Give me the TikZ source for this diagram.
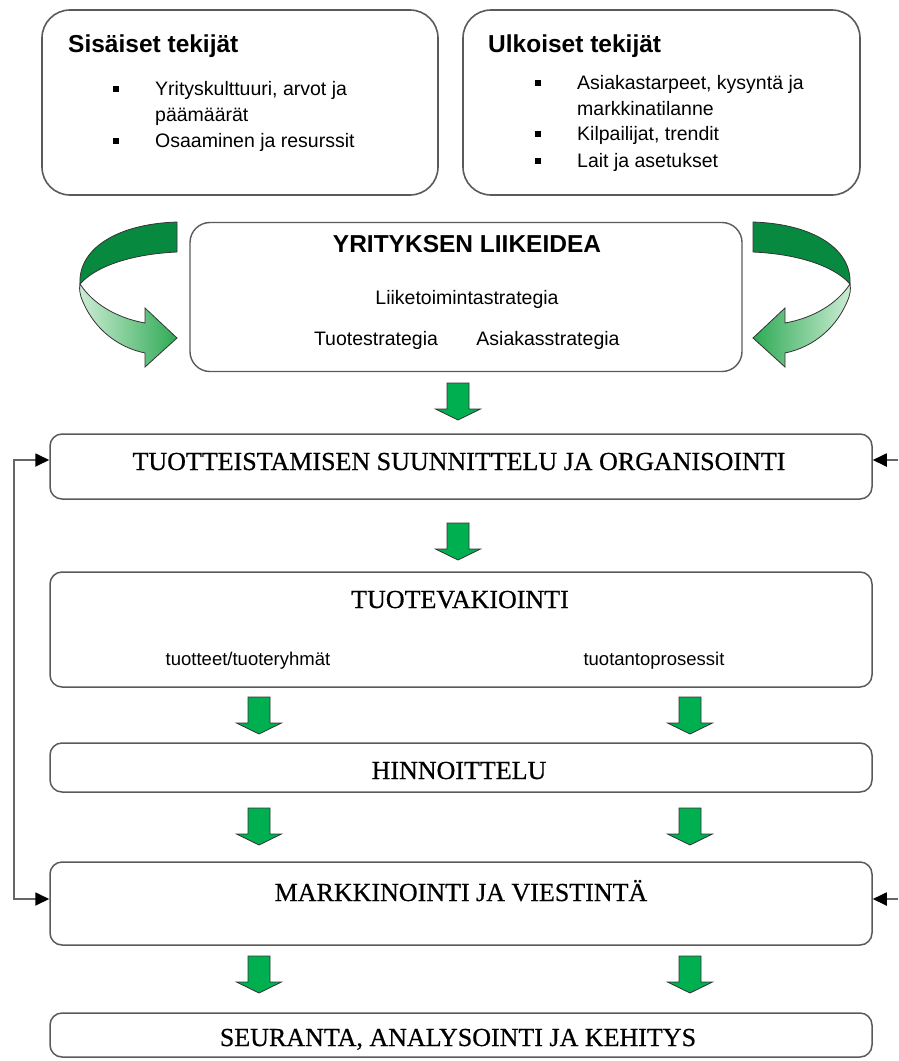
\documentclass[tikz,border=0pt]{standalone}
\usepackage{fontspec}
\setmainfont{Liberation Serif}
\newfontfamily\arial{Liberation Sans}
\newfontfamily\stagefont[FakeBold=0.6]{Liberation Serif}
\usepackage{xcolor}
\usetikzlibrary{arrows.meta,calc}
\definecolor{Leaf}{HTML}{00B050}
\definecolor{Forest}{HTML}{078A3F}
\definecolor{Mint}{HTML}{CDEDD4}
\definecolor{Grass}{HTML}{2EAA55}
\definecolor{Frame}{HTML}{5A5A5A}

\tikzset{
  pics/gdown/.style={code={
    \draw[fill=Leaf, draw=black!80, line width=0.8pt]
      (-11,0) -- (11,0) -- (11,26) -- (22.5,26) -- (0,37) -- (-22.5,26) -- (-11,26) -- cycle;
  }},
  pics/swirl/.style n args={2}{code={
    \draw[fill=Forest, draw=black!80, line width=0.8pt]
      (177,222) .. controls (115,224) and (78,250) .. (80,284)
      .. controls (96,266) and (132,254) .. (177,252) -- cycle;
    \draw[left color=#1, right color=#2, draw=black!80, line width=0.8pt]
      (80,284) .. controls (79,290) and (80,293) .. (81,297) .. controls (92,327) and (116,347) .. (145,353)
      -- (145,367) -- (177,338) -- (145,308) -- (145,323)
      .. controls (117,318) and (93,304) .. (80,284) -- cycle;
  }}
}

\begin{document}
\begin{tikzpicture}[x=1pt, y=-1pt,
    topbox/.style={draw=Frame, line width=1.6pt, rounded corners=28pt, inner sep=0pt},
    ideabox/.style={draw=Frame, line width=1.4pt, rounded corners=20pt, inner sep=0pt},
    stage/.style={draw=Frame, line width=1.5pt, rounded corners=12pt, inner sep=0pt, minimum width=822pt},
    head/.style={font=\arial\bfseries\fontsize{24.5}{28}\selectfont, inner sep=0pt},
    item/.style={font=\arial\fontsize{19.5}{23}\selectfont, inner sep=0pt},
    stagetitle/.style={font=\stagefont\fontsize{26}{30}\selectfont, inner sep=0pt},
    bullet/.style={fill=black, inner sep=0pt, minimum size=5.5pt},
    fbend/.style={draw=black!60, line width=1.8pt, -{Triangle[length=14pt,width=13pt,color=black]}},
    fbline/.style={fbend, {Triangle[length=14pt,width=13pt,color=black]}-{Triangle[length=14pt,width=13pt,color=black]}}
  ]
    \useasboundingbox (0,0) rectangle (898,1061);

    % tekijat
    \node[topbox, minimum width=396pt, minimum height=185pt] (sis) at (240,102.5) {};
    \node[head, anchor=base west] (sishead) at (68,52) {Sisäiset tekijät};
    \node[bullet] (sisb1) at (116,89) {};
    \node[item, anchor=base west] (sis1) at (155,95) {Yrityskulttuuri, arvot ja};
    \node[item, anchor=base west] (sis1b) at (155,121) {päämäärät};
    \node[bullet] (sisb2) at (116,141) {};
    \node[item, anchor=base west] (sis2) at (155,147) {Osaaminen ja resurssit};

    \node[topbox, minimum width=397pt, minimum height=185pt] (ulk) at (661.5,102.5) {};
    \node[head, anchor=base west] (ulkhead) at (488,52) {Ulkoiset tekijät};
    \node[bullet] (ulkb1) at (538,83) {};
    \node[item, anchor=base west] (ulk1) at (577,89) {Asiakastarpeet, kysyntä ja};
    \node[item, anchor=base west] (ulk1b) at (577,115) {markkinatilanne};
    \node[bullet] (ulkb2) at (538,134) {};
    \node[item, anchor=base west] (ulk2) at (577,140) {Kilpailijat, trendit};
    \node[bullet] (ulkb3) at (538,161) {};
    \node[item, anchor=base west] (ulk3) at (577,167) {Lait ja asetukset};

    % liikeidea
    \node[ideabox, minimum width=552pt, minimum height=149pt] (idea) at (466,297) {};
    \node[head, anchor=base] (ideahead) at (467,252) {YRITYKSEN LIIKEIDEA};
    \node[item, anchor=base] (strat) at (467,304) {Liiketoimintastrategia};
    \node[item, anchor=base] (tstrat) at (376,345) {Tuotestrategia};
    \node[item, anchor=base] (astrat) at (548,345) {Asiakasstrategia};

    \pic at (0,0) {swirl={Mint}{Grass}};
    \pic[xscale=-1] at (930,0) {swirl={Grass}{Mint}};

    % vaiheet
    \node[stage, minimum height=65pt] (plan) at (461,466.5) {};
    \node[stagetitle, anchor=base] (planlbl) at (459,470) {TUOTTEISTAMISEN SUUNNITTELU JA ORGANISOINTI};

    \node[stage, minimum height=115pt] (prod) at (461,629.5) {};
    \node[stagetitle, anchor=base] (prodlbl) at (460,608) {TUOTEVAKIOINTI};
    \node[item, anchor=base, font=\arial\fontsize{18.5}{22}\selectfont] (group) at (248,665) {tuotteet/tuoteryhmät};
    \node[item, anchor=base, font=\arial\fontsize{18.5}{22}\selectfont] (proc) at (654,665) {tuotantoprosessit};

    \node[stage, minimum height=49pt] (price) at (461,767.5) {};
    \node[stagetitle, anchor=base] (pricelbl) at (459,779) {HINNOITTELU};

    \node[stage, minimum height=83pt] (mark) at (461,903.5) {};
    \node[stagetitle, anchor=base] (marklbl) at (461,901) {MARKKINOINTI JA VIESTINTÄ};

    \node[stage, minimum height=44pt] (seur) at (461,1035) {};
    \node[stagetitle, anchor=base] (seurlbl) at (458,1046) {SEURANTA, ANALYSOINTI JA KEHITYS};

    % nuolet
    \pic at (458,383) {gdown};
    \pic at (458,523) {gdown};
    \pic at (259,697) {gdown};
    \pic at (690,697) {gdown};
    \pic at (259,808) {gdown};
    \pic at (690,808) {gdown};
    \pic at (259,956) {gdown};
    \pic at (690,956) {gdown};

    % palaute
    \coordinate (lt) at (14,460);
    \coordinate (lb) at (14,899);
    \coordinate (rt) at (898,460);
    \coordinate (rb) at (898,899);
    \draw[fbline] (lt -| plan.west) -- (lt) -- (lb) -- (lb -| mark.west);
    \draw[fbend] (rt) -- (rt -| plan.east);
    \draw[fbend] (rb) -- (rb -| mark.east);
\end{tikzpicture}
\end{document}
